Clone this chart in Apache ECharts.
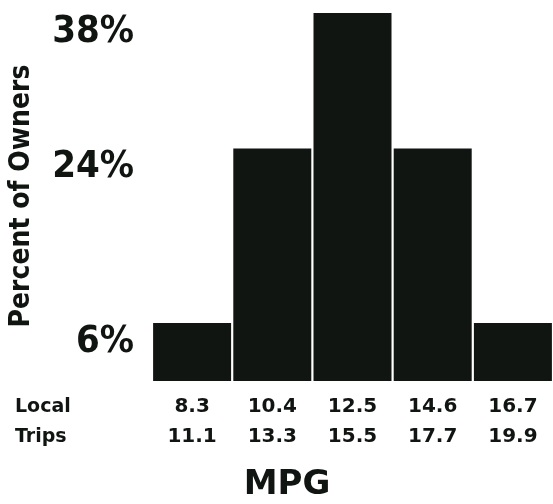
<!DOCTYPE html>
<html>
<head>
<meta charset="utf-8">
<title>Percent of Owners by MPG</title>
<script src="https://cdn.jsdelivr.net/npm/echarts@6/dist/echarts.min.js"></script>
<style>
  html, body { margin: 0; padding: 0; background: #ffffff; }
  #chart { width: 553px; height: 504px; }
</style>
</head>
<body>
<div id="chart"></div>
<script>
// MPG bins: local-trip and highway-trip mileage for each bar
const localMpg = ['8.3', '10.4', '12.5', '14.6', '16.7'];
const tripsMpg = ['11.1', '13.3', '15.5', '17.7', '19.9'];
// share of owners in each bin (percent)
const ownerPercent = [6, 24, 38, 24, 6];
// percentages shown on the value axis
const percentTicks = [6, 24, 38];
// row headings for the two label rows under the bars
const rowLabels = ['Local', 'Trips'];

const categories = localMpg.map((v, i) => v + '\n' + tripsMpg[i]);

const ink = '#111512';
const narrow = '"Liberation Sans Narrow", "DejaVu Sans Condensed", sans-serif';
const round = '"DejaVu Sans", sans-serif';

const chart = echarts.init(document.getElementById('chart'), null, { renderer: 'canvas' });

chart.setOption({
  backgroundColor: '#ffffff',
  animation: false,
  grid: { left: 152, top: 13, width: 409, bottom: 123, containLabel: false },
  xAxis: {
    type: 'category',
    data: categories,
    axisLine: { show: false },
    axisTick: { show: false },
    axisLabel: {
      margin: 11,
      color: ink,
      fontFamily: round,
      fontWeight: 'bold',
      fontSize: 20,
      lineHeight: 30,
      interval: 0
    }
  },
  yAxis: {
    type: 'value',
    min: 0,
    max: 38,
    splitLine: { show: false },
    axisLine: { show: false },
    axisTick: { show: false },
    axisLabel: {
      customValues: percentTicks,
      formatter: v => v + '%',
      margin: 18,
      color: ink,
      fontFamily: narrow,
      fontWeight: 'bold',
      fontSize: 38,
      verticalAlign: 'top'
    }
  },
  series: [{
    type: 'bar',
    data: ownerPercent,
    barWidth: 78,
    itemStyle: { color: ink },
    silent: true
  }],
  graphic: [
    {
      type: 'text',
      x: 22,
      y: 196,
      rotation: Math.PI / 2,
      style: {
        text: 'Percent of Owners',
        fill: ink,
        font: 'bold 28px ' + narrow,
        textAlign: 'center',
        textVerticalAlign: 'middle'
      }
    },
    {
      type: 'text',
      left: 15,
      top: 392,
      style: {
        text: rowLabels.join('\n'),
        fill: ink,
        font: 'bold 19px ' + round,
        lineHeight: 30
      }
    },
    {
      type: 'text',
      x: 287,
      y: 485,
      style: {
        text: 'MPG',
        fill: ink,
        font: 'bold 34px ' + round,
        textAlign: 'center',
        textVerticalAlign: 'middle'
      }
    }
  ]
});
</script>
</body>
</html>
